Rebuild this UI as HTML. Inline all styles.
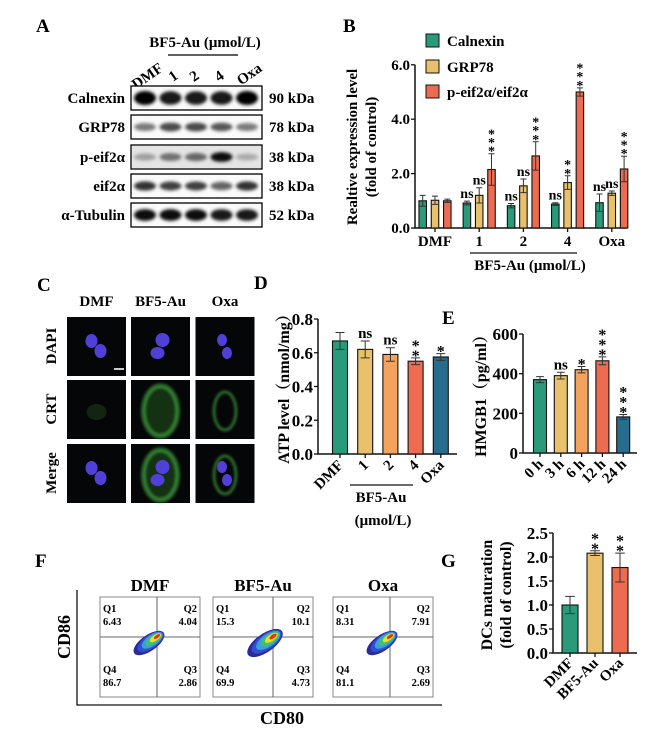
<!DOCTYPE html>
<html><head><meta charset="utf-8">
<style>
html,body{margin:0;padding:0;background:#fff;}
svg{display:block;font-family:"Liberation Serif",serif;font-weight:bold;}
</style></head>
<body>
<svg id="fig" width="671" height="738" viewBox="0 0 671 738" xmlns="http://www.w3.org/2000/svg">
<defs>
<filter id="blur1" x="-20%" y="-50%" width="140%" height="200%"><feGaussianBlur stdDeviation="1.6"/></filter>
<filter id="blur2" x="-30%" y="-30%" width="160%" height="160%"><feGaussianBlur stdDeviation="1.2"/></filter>
</defs>

<!-- Panel letters -->
<text x="36" y="32" font-size="19">A</text>
<text x="343" y="32" font-size="19">B</text>
<text x="37" y="291" font-size="19">C</text>
<text x="254" y="289" font-size="19">D</text>
<text x="442" y="324" font-size="19">E</text>
<text x="35" y="567" font-size="19">F</text>
<text x="441" y="567" font-size="19">G</text>

<!-- Panel A header -->
<g font-size="15">
<text x="205" y="47" text-anchor="middle">BF5-Au (μmol/L)</text>
<line x1="168" y1="55" x2="238" y2="55" stroke="#000" stroke-width="1.3"/>
<text transform="translate(150,80) rotate(-35)" text-anchor="middle">DMF</text>
<text transform="translate(176,80) rotate(-35)" text-anchor="middle">1</text>
<text transform="translate(197,80) rotate(-35)" text-anchor="middle">2</text>
<text transform="translate(222,80) rotate(-35)" text-anchor="middle">4</text>
<text transform="translate(252,78) rotate(-35)" text-anchor="middle">Oxa</text>
</g>
<g id="blots"></g>
<g id="chartB"></g>
<g id="cells"></g>
<g id="chartD"></g>
<g id="chartE"></g>
<g id="chartG"></g>
<g id="flow"></g>
</svg>
<script>
const NS='http://www.w3.org/2000/svg';
function mk(tag,attrs,parent){const e=document.createElementNS(NS,tag);for(const k in attrs)e.setAttribute(k,attrs[k]);(parent||document.getElementById('fig')).appendChild(e);return e;}
function txt(s,attrs,parent){const e=mk('text',attrs,parent);e.textContent=s;return e;}

/* ---------- Panel A blots ---------- */
const blotNames=['Calnexin','GRP78','p-eif2α','eif2α','α-Tubulin'];
const blotKda=['90 kDa','78 kDa','38 kDa','38 kDa','52 kDa'];
const blotInt=[[1,0.9,0.9,0.9,1],[0.5,0.7,0.7,0.65,0.5],[0.3,0.5,0.55,0.95,0.25],[0.8,0.75,0.75,0.6,0.8],[0.95,0.95,0.95,0.9,0.9]];
const blotH=[7,5,5,5,6];
(function(){
 const g=document.getElementById('blots');
 const rowY=[98,127,157,186,215];
 for(let r=0;r<5;r++){
  const y=rowY[r];
  let el=mk('rect',{x:131,y:y-12,width:131,height:24,fill:'#fafafa',stroke:'#000','stroke-width':1.3},g);
  
  
  if(r===2){let bg=mk('rect',{x:132,y:y-11,width:129,height:22,fill:'#e4e4e4'},g);}
  for(let l=0;l<5;l++){
   const a=blotInt[r][l];
   let b=mk('ellipse',{cx:145+l*25.5,cy:y,rx:11,ry:blotH[r]*(0.6+0.4*a),fill:'#000','fill-opacity':a,filter:'url(#blur1)'},g);
   
   
  }
  let t=txt(blotNames[r],{x:125,y:y+5,'font-size':15,'text-anchor':'end'},g);
  
  
  let k=txt(blotKda[r],{x:269,y:y+5,'font-size':15},g);
  
  
 }
})();

function bar(g,x,w,y0,y1,fill){const e=mk('rect',{x:x-w/2,y:Math.min(y0,y1),width:w,height:Math.abs(y0-y1),fill:fill,stroke:'#111','stroke-width':1.1},g);return e;}
function errb(g,x,ylo,yhi,w){const p=mk('path',{d:`M${x},${ylo}V${yhi}M${x-w},${yhi}H${x+w}M${x-w},${ylo}H${x+w}`,stroke:'#333','stroke-width':1,fill:'none'},g);return p;}
function stars(g,x,ytop,n,size,name){for(let i=0;i<n;i++){const s=txt('*',{x:x,y:ytop-i*size*0.62+size*0.5,'font-size':size,'text-anchor':'middle'},g);}}

/* ---------- Panel B ---------- */
const catsB=['DMF','1','2','4','Oxa'];
const seriesNames=['Calnexin','GRP78','p-eif2α/eif2α'];
const calnexin=[1.0,0.92,0.82,0.88,0.93];
const calnexinErr=[0.2,0.07,0.08,0.05,0.32];
const grp78=[1.02,1.2,1.55,1.67,1.28];
const grp78Err=[0.15,0.28,0.25,0.25,0.08];
const peif=[1.0,2.15,2.65,5.0,2.17];
const peifErr=[0.06,0.58,0.52,0.15,0.47];
const sigCal=['','ns','ns','ns','ns'];
const sigGrp=['','ns','ns','**','ns'];
const sigPe=['','***','***','***','***'];
const ticksB=[0,2,4,6];
(function(){
 const g=document.getElementById('chartB');
 const x0=415,yb=v=>228-v*27.2;
 const gx=i=>435+i*44.2;
 const cols=['#2a9b7a','#e9c06c','#ec6b51'];
 const vals=[calnexin,grp78,peif],errs=[calnexinErr,grp78Err,peifErr],sigs=[sigCal,sigGrp,sigPe];
 let ax=mk('path',{d:`M${x0},${yb(6)}V${yb(0)}H627`,stroke:'#111','stroke-width':1.5,fill:'none'},g);
 
 
 ticksB.forEach(t=>{let l=mk('line',{x1:x0-4,x2:x0,y1:yb(t),y2:yb(t),stroke:'#111','stroke-width':1.3},g);
  let tt=txt(t.toFixed(1),{x:x0-5,y:yb(t)+5,'font-size':15,'text-anchor':'end'},g);});
 for(let i=0;i<5;i++){
  let l=mk('line',{x1:gx(i),x2:gx(i),y1:yb(0),y2:yb(0)+4,stroke:'#111','stroke-width':1.3},g);
  let t=txt(catsB[i],{x:gx(i),y:246,'font-size':15,'text-anchor':'middle'},g);
  for(let s=0;s<3;s++){
   const cx=gx(i)+(s-1)*12.3,v=vals[s][i],e=errs[s][i];
   let b=bar(g,cx,7.5,yb(0),yb(v),cols[s]);
   let eb=errb(g,cx,yb(v-e),yb(v+e),3);
   const sg=sigs[s][i];
   if(sg==='ns'){let n=txt('ns',{x:cx,y:yb(v+e)-3,'font-size':14,'text-anchor':'middle'},g);}
   else if(sg)stars(g,cx,yb(v+e)-5,sg.length,14,'b-star');
  }
 }
 let ln=mk('line',{x1:470,x2:577,y1:253,y2:253,stroke:'#111','stroke-width':1.3},g);
 let xt=txt('BF5-Au (μmol/L)',{x:530,y:270,'font-size':15,'text-anchor':'middle'},g);
 let y1=txt('Realtive expression level',{transform:'translate(357,147) rotate(-90)','font-size':15,'text-anchor':'middle'},g);
 let y2=txt('(fold of control)',{transform:'translate(376,147) rotate(-90)','font-size':15,'text-anchor':'middle'},g);
 const ly=[41,67,92];
 for(let s=0;s<3;s++){
  let r=mk('rect',{x:426,y:ly[s]-7,width:13,height:13,fill:cols[s],stroke:'#111','stroke-width':1},g);
  let t=txt(seriesNames[s],{x:447,y:ly[s]+5,'font-size':15},g);
 }
})();

/* ---------- Panel C cells ---------- */
(function(){
 const g=document.getElementById('cells');
 const cx=[96.5,160.5,225],ry=[317,380,444],hs=['DMF','BF5-Au','Oxa'],rows=['DAPI','CRT','Merge'];
 hs.forEach((h,i)=>{let t=txt(h,{x:cx[i],y:306,'font-size':15,'text-anchor':'middle'},g);});
 rows.forEach((r,j)=>{let t=txt(r,{transform:`translate(56,${ry[j]+29}) rotate(-90)`,'font-size':15,'text-anchor':'middle'},g);});
 const nuc=[[[-5,-5,6,7],[4,5,6,7]],[[2,-6,7,7],[-3,7,7,6]],[[-3,-6,5,6],[2,7,5,6]]];
 for(let j=0;j<3;j++)for(let i=0;i<3;i++){
  const x=cx[i]-29.5,y=ry[j];
  let r=mk('rect',{x:x,y:y,width:59,height:59,fill:'#050607'},g);
  const mx=cx[i],my=y+29;
  if(j>0&&i>0){
   if(i===1){let f=mk('ellipse',{cx:mx,cy:my+2,rx:17,ry:25,fill:'#1e4f1d','fill-opacity':0.6},g);}
   let c=mk('ellipse',{cx:mx,cy:my+2,rx:i===1?17:11,ry:i===1?25:19,fill:'none',stroke:'#3d9a3a','stroke-width':i===1?5:3,'stroke-opacity':0.7,filter:'url(#blur2)'},g);
  }
  if(j===1&&i===0){let c=mk('ellipse',{cx:mx,cy:my+3,rx:10,ry:8,fill:'#1c3a18','fill-opacity':0.6},g);}
  if(j!==1){nuc[i].forEach(n=>{let e=mk('ellipse',{cx:mx+n[0],cy:my+n[1],rx:n[2],ry:n[3],fill:'#5040d8'},g);});}
 }
 let sb=mk('line',{x1:114,x2:124,y1:369,y2:369,stroke:'#ccc','stroke-width':2},g);
})();

/* ---------- Panel D ---------- */
const catsD=['DMF','1','2','4','Oxa'];
const atp=[0.67,0.62,0.59,0.55,0.575];
const atpErr=[0.05,0.05,0.04,0.02,0.02];
const sigD=['','ns','ns','**','*'];
const ticksD=[0,0.2,0.4,0.6,0.8];
/* ---------- Panel E ---------- */
const catsE=['0 h','3 h','6 h','12 h','24 h'];
const hmgb1=[370,390,420,465,182];
const hmgb1Err=[15,17,16,20,12];
const sigE=['','ns','*','***','***'];
const ticksE=[0,200,400,600];
/* ---------- Panel G ---------- */
const catsG=['DMF','BF5-Au','Oxa'];
const dcs=[1.0,2.08,1.78];
const dcsErr=[0.18,0.05,0.3];
const sigG=['','**','**'];
const ticksG=[0,0.5,1.0,1.5,2.0,2.5];
const colsDE=['#2a9b7a','#e9c06c','#f4a35e','#ec6b51','#276c8c'];

function simpleChart(id,pre,cats,vals,errs,sigs,ticks,x0,xEnd,yFn,xFn,bw,cols,fmt,labY){
 const g=document.getElementById(id);
 let ax=mk('path',{d:`M${x0},${yFn(ticks[ticks.length-1])}V${yFn(0)}H${xEnd}`,stroke:'#111','stroke-width':1.5,fill:'none'},g);
 
 
 ticks.forEach(t=>{let l=mk('line',{x1:x0-4,x2:x0,y1:yFn(t),y2:yFn(t),stroke:'#111','stroke-width':1.3},g);
  let tt=txt(fmt(t),{x:x0-5,y:yFn(t)+6,'font-size':17,'text-anchor':'end'},g);});
 vals.forEach((v,i)=>{
  const cx=xFn(i);
  let b=bar(g,cx,bw,yFn(0),yFn(v),cols[i]);
  let e=errb(g,cx,yFn(v-errs[i]),yFn(v+errs[i]),bw*0.3);
  let tk=mk('line',{x1:cx,x2:cx,y1:yFn(0),y2:yFn(0)+4,stroke:'#111','stroke-width':1.3},g);
  let lb=txt(cats[i],{transform:`translate(${cx+4},${labY}) rotate(-45)`,'font-size':15,'text-anchor':'end'},g);
  const s=sigs[i];
  if(s==='ns'){let n=txt('ns',{x:cx,y:yFn(v+errs[i])-3,'font-size':15,'text-anchor':'middle'},g);}
  else if(s)stars(g,cx,yFn(v+errs[i])-5,s.length,16,pre+'-star');
 });
 return g;
}
(function(){
 const g=simpleChart('chartD','d',catsD,atp,atpErr,sigD,ticksD,318,457,v=>454-v*168.75,i=>340+i*25.2,15,colsDE,t=>t.toFixed(1),466);
 let l=mk('line',{x1:350,x2:413,y1:485,y2:485,stroke:'#111','stroke-width':1.3},g);
 let t1=txt('BF5-Au',{x:381,y:502,'font-size':15,'text-anchor':'middle'},g);
 let t2=txt('(μmol/L)',{x:383,y:525,'font-size':15,'text-anchor':'middle'},g);
 let yt=txt('ATP level（nmol/mg）',{transform:'translate(289,385) rotate(-90)','font-size':16,'text-anchor':'middle'},g);
 yt.setAttribute('style','font-family:"Liberation Serif","Noto Serif CJK SC",serif');
})();
(function(){
 const g=simpleChart('chartE','e',catsE,hmgb1,hmgb1Err,sigE,ticksE,523,637,v=>453-v*0.1983,i=>540+i*20.8,13,colsDE,t=>String(t),465);
 let yt=txt('HMGB1（pg/ml）',{transform:'translate(486,392) rotate(-90)','font-size':16,'text-anchor':'middle'},g);
 yt.setAttribute('style','font-family:"Liberation Serif","Noto Serif CJK SC",serif');
})();
(function(){
 const g=simpleChart('chartG','g',catsG,dcs,dcsErr,sigG,ticksG,553,637,v=>653-v*48,i=>570+i*25,16,['#2a9b7a','#e9c06c','#ec6b51'],t=>t.toFixed(1),664);
 let y1=txt('DCs maturation',{transform:'translate(492,595) rotate(-90)','font-size':16,'text-anchor':'middle'},g);
 let y2=txt('(fold of control)',{transform:'translate(511,595) rotate(-90)','font-size':16,'text-anchor':'middle'},g);
})();

/* ---------- Panel F flow ---------- */
const flowTitles=['DMF','BF5-Au','Oxa'];
const q1=['6.43','15.3','8.31'];
const q2=['4.04','10.1','7.91'];
const q3=['2.86','4.73','2.69'];
const q4=['86.7','69.9','81.1'];
(function(){
 const g=document.getElementById('flow');
 const bx=[100,213,333],vx=[157,273,390];
 const blobC=['#2b2a9c','#3050d0','#3aa0d8','#40c070','#e8e030','#e83020'];
 let ax=mk('path',{d:'M77,590V705H442',stroke:'#111','stroke-width':1.3,fill:'none'},g);
 let cy=txt('CD86',{transform:'translate(70,637) rotate(-90)','font-size':18,'text-anchor':'middle'},g);
 let cx=txt('CD80',{x:282,y:724,'font-size':18,'text-anchor':'middle'},g);
 for(let i=0;i<3;i++){
  const x=bx[i];
  let t=txt(flowTitles[i],{x:x+50,y:591,'font-size':17,'text-anchor':'middle'},g);
  let r=mk('rect',{x:x,y:597,width:100,height:100,fill:'#fff',stroke:'#888','stroke-width':1},g);
  let q=mk('path',{d:`M${vx[i]},597V697M${x},637H${x+100}`,stroke:'#666','stroke-width':1},g);
  const bcx=vx[i]-8,bcy=643,sc=i===1?1.15:1;
  blobC.forEach((c,k)=>{const f=1-k*0.16;let e=mk('ellipse',{cx:bcx+k*1.6,cy:bcy-k*1.3,rx:18*f*sc,ry:8*f*sc,fill:c,transform:`rotate(-35 ${bcx+k*1.6} ${bcy-k*1.3})`},g);});
  [['Q1',x+3,612,'start'],[q1[i],x+3,625,'start'],['Q2',x+97,612,'end'],[q2[i],x+97,625,'end'],['Q4',x+3,673,'start'],[q4[i],x+3,686,'start'],['Q3',x+97,673,'end'],[q3[i],x+97,686,'end']].forEach(a=>{
   let tt=txt(a[0],{x:a[1],y:a[2],'font-size':10.5,'text-anchor':a[3]},g);});
 }
})();
</script>
</body></html>
